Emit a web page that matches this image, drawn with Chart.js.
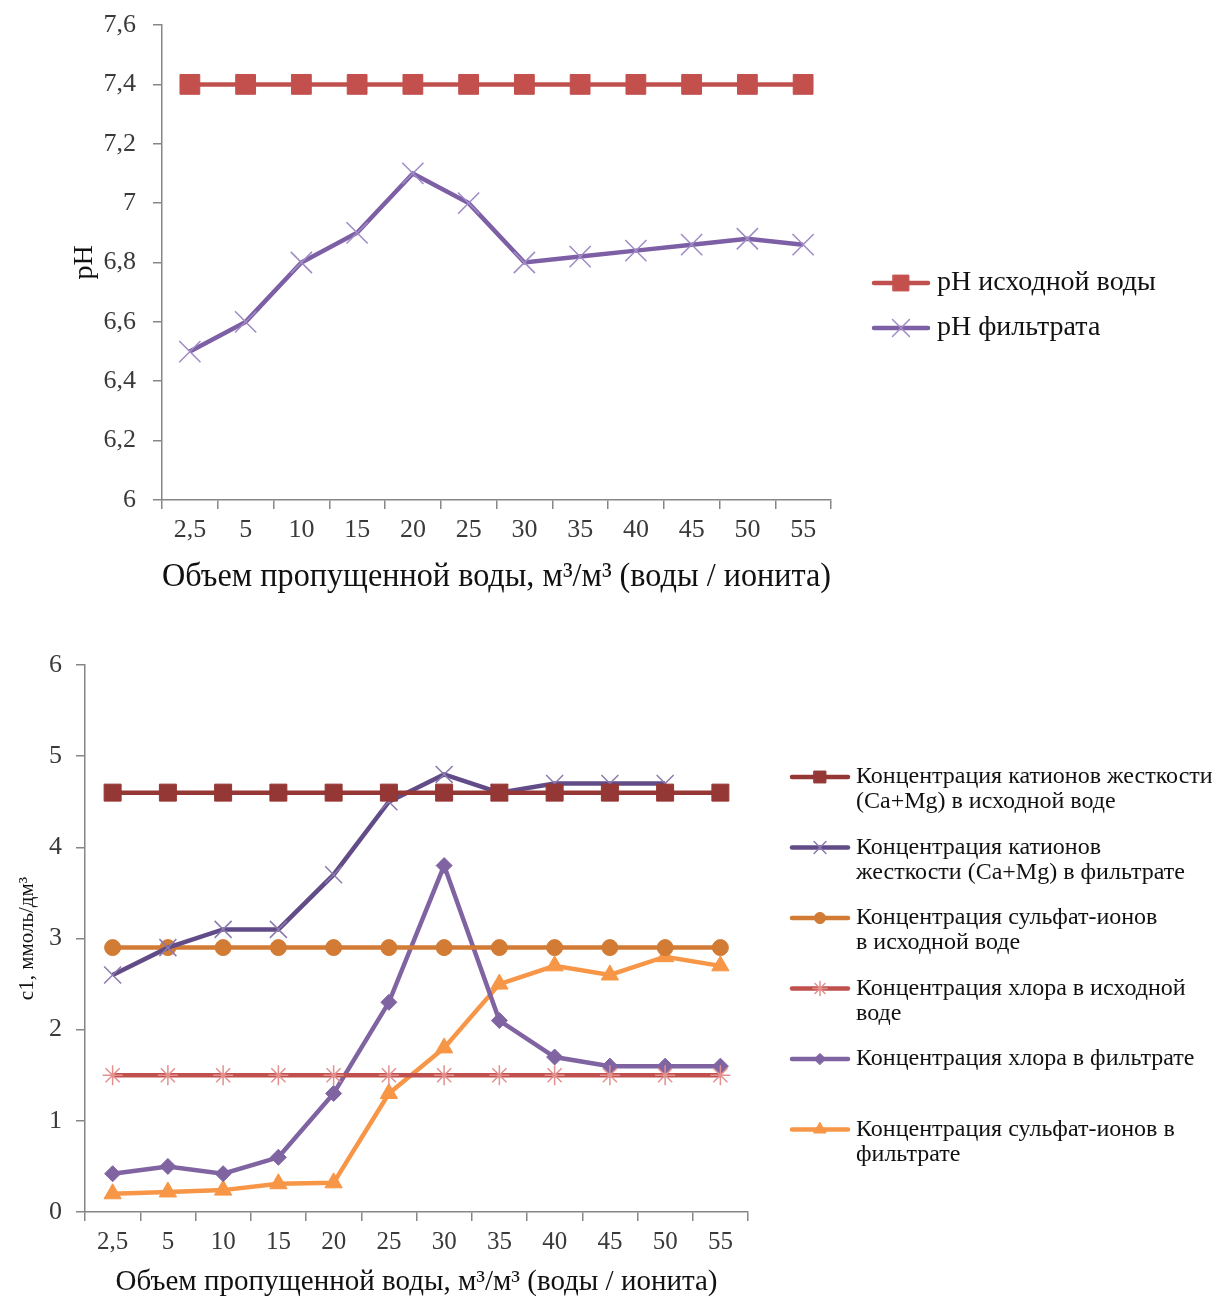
<!DOCTYPE html>
<html>
<head>
<meta charset="utf-8">
<script src="https://cdn.jsdelivr.net/npm/chart.js@4/dist/chart.umd.min.js"></script>
<style>
  html, body { margin: 0; background: #fff; overflow: hidden; }
  .box { position: absolute; left: 0; width: 1217px; }
  #ph-box { top: 0; height: 610px; }
  #conc-box { top: 610px; height: 700px; }
</style>
</head>
<body>
<div class="box" id="ph-box"><canvas id="ph-chart"></canvas></div>
<div class="box" id="conc-box"><canvas id="conc-chart"></canvas></div>
<script>
const volumes = ['2,5', '5', '10', '15', '20', '25', '30', '35', '40', '45', '50', '55'];

// pH
const phSource = [7.4, 7.4, 7.4, 7.4, 7.4, 7.4, 7.4, 7.4, 7.4, 7.4, 7.4, 7.4];
const phFiltrate = [6.5, 6.6, 6.8, 6.9, 7.1, 7.0, 6.8, 6.82, 6.84, 6.86, 6.88, 6.86];

// concentrations, mmol/dm3
const hardnessSource = [4.6, 4.6, 4.6, 4.6, 4.6, 4.6, 4.6, 4.6, 4.6, 4.6, 4.6, 4.6];
const hardnessFiltrate = [2.6, 2.9, 3.1, 3.1, 3.7, 4.5, 4.8, 4.6, 4.7, 4.7, 4.7, null];
const sulfateSource = [2.9, 2.9, 2.9, 2.9, 2.9, 2.9, 2.9, 2.9, 2.9, 2.9, 2.9, 2.9];
const chlorideSource = [1.5, 1.5, 1.5, 1.5, 1.5, 1.5, 1.5, 1.5, 1.5, 1.5, 1.5, 1.5];
const chlorideFiltrate = [0.42, 0.5, 0.42, 0.6, 1.3, 2.3, 3.8, 2.1, 1.7, 1.6, 1.6, 1.6];
const sulfateFiltrate = [0.2, 0.22, 0.24, 0.31, 0.32, 1.3, 1.8, 2.5, 2.7, 2.6, 2.8, 2.7];

const SERIF = "'Liberation Serif', 'Times New Roman', serif";
const AXIS_GREY = '#868686';

// legend drawn beside the plot, one row per dataset, labels may wrap with \n
const sideLegend = {
  id: 'sideLegend',
  afterDraw(chart, args, opts) {
    const ctx = chart.ctx;
    ctx.save();
    ctx.font = opts.fontSize + 'px ' + SERIF;
    ctx.textBaseline = 'middle';
    ctx.textAlign = 'left';
    chart.data.datasets.forEach((ds, i) => {
      const y = opts.y + i * opts.gap;
      ctx.strokeStyle = ds.borderColor;
      ctx.lineWidth = ds.borderWidth;
      ctx.lineCap = 'round';
      ctx.beginPath();
      ctx.moveTo(opts.x, y);
      ctx.lineTo(opts.x + opts.lineLen, y);
      ctx.stroke();
      ctx.fillStyle = ds.pointBackgroundColor;
      ctx.strokeStyle = ds.pointBorderColor;
      ctx.lineWidth = ds.pointBorderWidth;
      Chart.helpers.drawPoint(ctx, {
        pointStyle: ds.pointStyle,
        radius: ds.pointRadius * opts.markerScale,
        rotation: 0,
        borderWidth: ds.pointBorderWidth
      }, opts.x + opts.lineLen / 2, y);
      ctx.fillStyle = '#111';
      ds.label.split('\n').forEach((line, j) => {
        ctx.fillText(line, opts.textX, y + j * opts.lineHeight);
      });
    });
    ctx.restore();
  }
};

function tickNumber(v) {
  return String(Number(v.toFixed(1))).replace('.', ',');
}

function xAxis(height, tickSize, tickPad, titleSize, titlePad) {
  return {
    offset: true,
    grid: { offset: true, drawOnChartArea: false, color: AXIS_GREY, lineWidth: 1.5, tickLength: 9 },
    border: { color: AXIS_GREY, width: 1.5 },
    ticks: { font: { family: SERIF, size: tickSize }, color: '#3a3a3a', padding: tickPad, autoSkip: false, maxRotation: 0 },
    title: {
      display: true,
      text: 'Объем пропущенной воды, м³/м³ (воды / ионита)',
      font: { family: SERIF, size: titleSize },
      color: '#111',
      padding: { top: 0, bottom: titlePad }
    },
    afterFit: (scale) => { scale.height = height; }
  };
}

function yAxis(width, min, max, step, tickSize, tickPad, title, titleSize, titlePad) {
  return {
    min: min,
    max: max,
    grid: { drawOnChartArea: false, color: AXIS_GREY, lineWidth: 1.5, tickLength: 9 },
    border: { color: AXIS_GREY, width: 1.5 },
    ticks: { stepSize: step, font: { family: SERIF, size: tickSize }, color: '#3a3a3a', padding: tickPad, callback: tickNumber },
    title: {
      display: true,
      text: title,
      font: { family: SERIF, size: titleSize },
      color: '#111',
      padding: { top: titlePad, bottom: 0 }
    },
    afterFit: (scale) => {
      scale.width = width;
      // the plot top comes from layout.padding only
      scale.paddingTop = 0;
      scale.paddingBottom = 0;
    }
  };
}

function series(label, data, color, style, radius, markFill, markStroke, markWidth) {
  return {
    label: label,
    data: data,
    borderColor: color,
    borderWidth: 4.5,
    tension: 0,
    pointStyle: style,
    pointRadius: radius,
    pointHoverRadius: radius,
    pointBackgroundColor: markFill,
    pointBorderColor: markStroke,
    pointBorderWidth: markWidth
  };
}

new Chart(document.getElementById('ph-chart'), {
  type: 'line',
  data: {
    labels: volumes,
    datasets: [
      series('pH исходной воды', phSource, '#C0504D', 'rect', 14, '#C4504E', '#C4504E', 1),
      series('pH фильтрата', phFiltrate, '#7D5FA6', 'crossRot', 15, '#A08BC6', '#A08BC6', 1.5)
    ]
  },
  plugins: [sideLegend],
  options: {
    responsive: true,
    maintainAspectRatio: false,
    animation: false,
    layout: { padding: { top: 25, right: 386, bottom: 0, left: 0 } },
    plugins: {
      legend: { display: false },
      tooltip: { enabled: false },
      sideLegend: { x: 874, y: 283, gap: 45, lineLen: 54, textX: 937, fontSize: 28, lineHeight: 30, markerScale: 0.8 }
    },
    scales: {
      x: xAxis(110, 26, 6, 33, 13),
      y: yAxis(162, 6, 7.6, 0.2, 26, 17, 'pH', 28, 68)
    }
  }
});

new Chart(document.getElementById('conc-chart'), {
  type: 'line',
  data: {
    labels: volumes,
    datasets: [
      series('Концентрация катионов жесткости\n(Ca+Mg) в исходной воде', hardnessSource, '#953735', 'rect', 12, '#953735', '#953735', 1),
      series('Концентрация катионов\nжесткости (Ca+Mg) в фильтрате', hardnessFiltrate, '#624C88', 'crossRot', 12, '#8B7AAD', '#8B7AAD', 1.5),
      series('Концентрация сульфат-ионов\nв исходной воде', sulfateSource, '#D27B34', 'circle', 8, '#D27B34', '#D27B34', 1),
      series('Концентрация хлора в исходной\nводе', chlorideSource, '#C0504D', 'star', 10, '#E3908E', '#E3908E', 1.5),
      series('Концентрация хлора в фильтрате', chlorideFiltrate, '#8064A2', 'rectRot', 8, '#8064A2', '#8064A2', 1),
      series('Концентрация сульфат-ионов в\nфильтрате', sulfateFiltrate, '#F79646', 'triangle', 10, '#F79646', '#F79646', 1)
    ]
  },
  plugins: [sideLegend],
  options: {
    responsive: true,
    maintainAspectRatio: false,
    animation: false,
    layout: { padding: { top: 55, right: 469, bottom: 0, left: 0 } },
    plugins: {
      legend: { display: false },
      tooltip: { enabled: false },
      sideLegend: { x: 792, y: 167, gap: 70.5, lineLen: 56, textX: 856, fontSize: 24, lineHeight: 25, markerScale: 0.7 }
    },
    scales: {
      x: xAxis(98, 25, 6, 29, 10),
      y: yAxis(85, 0, 6, 1, 26, 14, 'c1, ммоль/дм³', 21, 15)
    }
  }
});
</script>
</body>
</html>
